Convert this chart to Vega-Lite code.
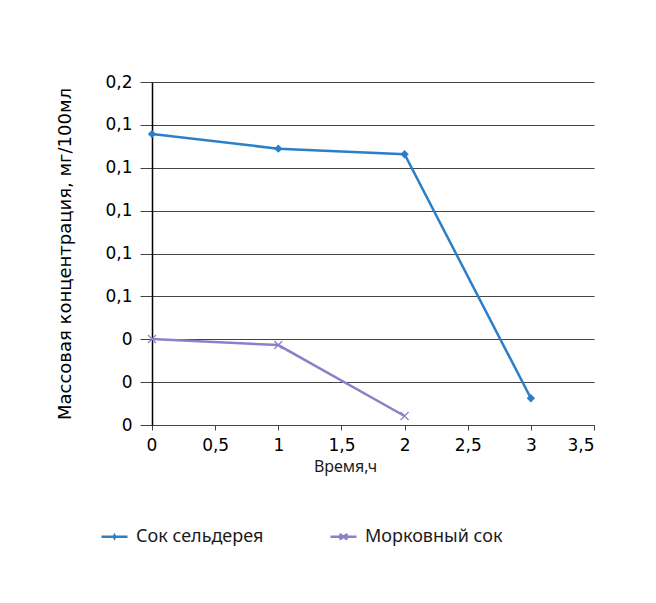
{
  "$schema": "https://vega.github.io/schema/vega-lite/v6.json",
  "width": 442,
  "height": 343,
  "autosize": {"type": "none"},
  "padding": {"left": 152, "top": 82, "right": 62, "bottom": 178},
  "background": "white",
  "config": {
    "view": {"stroke": null},
    "font": "DejaVu Sans",
    "axis": {"labelColor": "#000000", "titleColor": "#000000", "titleFontWeight": "normal"}
  },
  "data": {
    "values": [
      {"t": 0, "v": 0.1357, "s": "Сок сельдерея"},
      {"t": 1, "v": 0.1289, "s": "Сок сельдерея"},
      {"t": 2, "v": 0.1263, "s": "Сок сельдерея"},
      {"t": 3, "v": 0.0125, "s": "Сок сельдерея"},
      {"t": 0, "v": 0.0401, "s": "Морковный сок"},
      {"t": 1, "v": 0.0373, "s": "Морковный сок"},
      {"t": 2, "v": 0.0042, "s": "Морковный сок"}
    ]
  },
  "encoding": {
    "x": {
      "field": "t",
      "type": "quantitative",
      "scale": {"domain": [0, 3.5], "nice": false, "zero": false},
      "axis": {
        "title": "Время,ч",
        "titleFont": "Noto Sans",
        "titleFontSize": 16,
        "titlePadding": 5,
        "titleAnchor": "middle",
        "titleX": 193,
        "titleColor": "#1a1a1a",
        "values": [0, 0.5, 1, 1.5, 2, 2.5, 3, 3.5],
        "labelExpr": "replace(toString(datum.value), '.', ',')",
        "labelFont": "DejaVu Sans",
        "labelFontSize": 17,
        "labelPadding": 7,
        "labelOffset": {"condition": {"test": "datum.value === 0", "value": -6}, "value": 0},
        "grid": false,
        "domainColor": "#444444",
        "tickColor": "#444444",
        "tickSize": 5
      }
    },
    "y": {
      "field": "v",
      "type": "quantitative",
      "scale": {"domain": [0, 0.16], "nice": false},
      "axis": {
        "title": "Массовая концентрация, мг/100мл",
        "titleFont": "DejaVu Sans",
        "titleFontSize": 18,
        "titlePadding": 30,
        "values": [0, 0.02, 0.04, 0.06, 0.08, 0.1, 0.12, 0.14, 0.16],
        "labelExpr": "replace(toString(round(datum.value * 10) / 10), '.', ',')",
        "labelFont": "DejaVu Sans",
        "labelFontSize": 17,
        "labelPadding": 8,
        "grid": true,
        "gridColor": "#444444",
        "gridWidth": 1,
        "gridOpacity": 1,
        "domainColor": "#000000",
        "domainWidth": 1.5,
        "tickColor": "#444444",
        "tickSize": 12
      }
    }
  },
  "layer": [
    {
      "mark": {"type": "line", "strokeWidth": 2.5},
      "encoding": {
        "color": {
          "field": "s",
          "type": "nominal",
          "scale": {"domain": ["Сок сельдерея", "Морковный сок"], "range": ["#2C7FC7", "#8A82C6"]},
          "legend": {
            "title": null,
            "orient": "none",
            "direction": "horizontal",
            "legendX": -52,
            "legendY": 440,
            "padding": 0,
            "symbolSize": 676,
            "symbolStrokeWidth": 2.5,
            "labelFont": "Noto Sans",
            "labelFontSize": 18,
            "labelColor": "#1a1a1a",
            "labelOffset": 7,
            "columnPadding": 61,
            "encode": {
              "symbols": {
                "update": {
                  "shape": {"signal": "datum.value === 'Сок сельдерея' ? 'M-1,0H1M0,-0.1L0.05,0L0,0.1L-0.05,0Z' : 'M-1,0H1M-0.3,-0.22L0.3,0.22M-0.3,0.22L0.3,-0.22'"},
                  "strokeWidth": {"value": 2.5}
                }
              }
            }
          }
        }
      }
    },
    {
      "transform": [{"filter": "datum.s === 'Сок сельдерея'"}],
      "mark": {"type": "point", "shape": "diamond", "filled": true, "size": 70, "opacity": 1, "color": "#2C7FC7"}
    },
    {
      "transform": [{"filter": "datum.s === 'Морковный сок'"}],
      "mark": {"type": "point", "shape": "M-1,-1L1,1M-1,1L1,-1", "filled": false, "size": 64, "strokeWidth": 1.2, "opacity": 1, "color": "#8A82C6"}
    }
  ]
}
